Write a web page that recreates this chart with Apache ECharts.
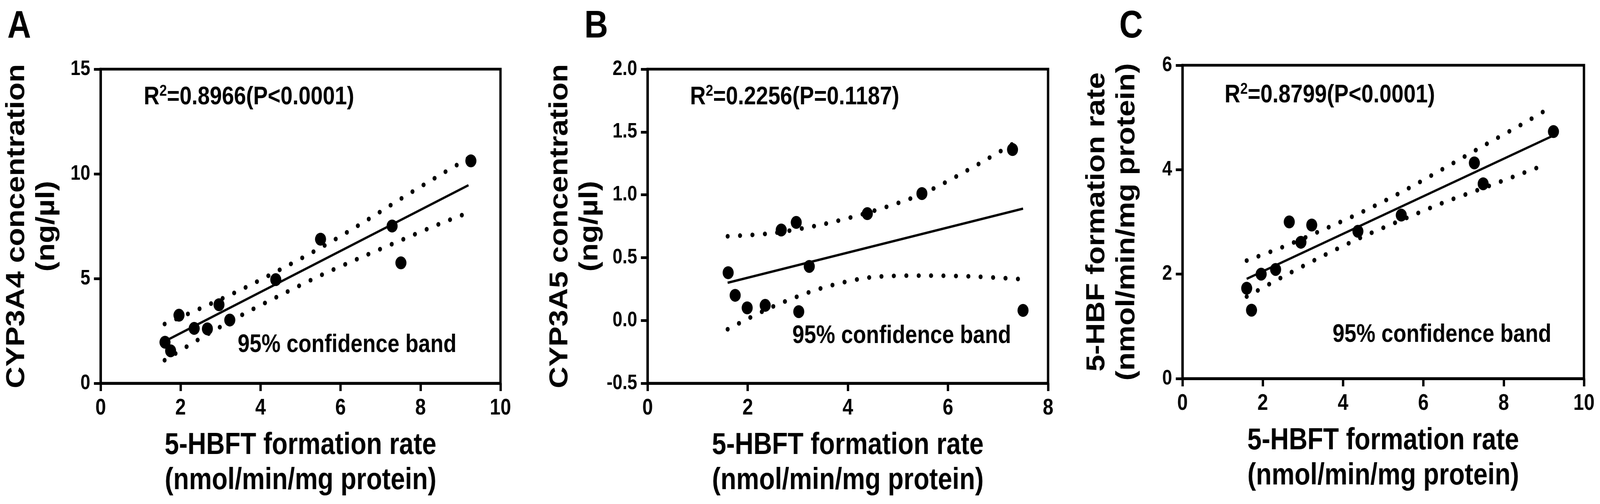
<!DOCTYPE html>
<html>
<head>
<meta charset="utf-8">
<script src="https://cdn.jsdelivr.net/npm/echarts@6/dist/echarts.min.js"></script>
<style>
  html, body { margin: 0; padding: 0; background: #fff; overflow: hidden; }
  #chart { width: 4786px; height: 1290px; transform-origin: 0 0; }
</style>
</head>
<body>
<div id="chart"></div>
<script>
// panel A: CYP3A4 vs 5-HBFT
var xA = [1.61, 1.75, 1.96, 2.34, 2.67, 2.96, 3.23, 4.38, 5.50, 7.29, 7.51, 9.26];
var yA = [1.96, 1.55, 3.25, 2.62, 2.60, 3.75, 3.02, 4.95, 6.88, 7.51, 5.75, 10.62];
var fitXA = [1.6, 9.2];
var fitYA = [2.0, 9.46];
var bandXA = [1.6, 2.5, 3.5, 4.5, 5.5, 6.5, 7.5, 8.5, 9.2];
var upperA = [2.83, 3.58, 4.46, 5.44, 6.47, 7.60, 8.80, 9.96, 10.75];
var lowerA = [1.10, 2.15, 3.23, 4.21, 5.15, 6.00, 6.82, 7.63, 8.15];

// panel B: CYP3A5 vs 5-HBFT
var xB = [1.61, 1.75, 1.99, 2.35, 2.67, 2.97, 3.02, 3.23, 4.39, 5.48, 7.29, 7.50];
var yB = [0.38, 0.20, 0.10, 0.12, 0.72, 0.78, 0.07, 0.43, 0.85, 1.01, 1.36, 0.08];
var fitXB = [1.6, 7.5];
var fitYB = [0.30, 0.89];
var bandXB = [1.6, 2.5, 3.5, 4.5, 5.5, 6.5, 7.4];
var upperB = [0.67, 0.695, 0.765, 0.87, 1.01, 1.22, 1.43];
var lowerB = [-0.07, 0.11, 0.26, 0.345, 0.357, 0.35, 0.33];

// panel C: 5-HBF vs 5-HBFT
var xC = [1.60, 1.72, 1.96, 2.32, 2.66, 2.95, 3.22, 4.37, 5.45, 7.27, 7.49, 9.24];
var yC = [1.73, 1.31, 2.00, 2.09, 3.00, 2.61, 2.94, 2.82, 3.13, 4.13, 3.73, 4.73];
var fitXC = [1.6, 9.2];
var fitYC = [1.91, 4.64];
var bandXC = [1.6, 2.5, 3.5, 4.5, 5.5, 6.5, 7.5, 8.5, 9.05];
var upperC = [2.26, 2.52, 2.85, 3.20, 3.59, 4.02, 4.46, 4.89, 5.14];
var lowerC = [1.57, 1.95, 2.35, 2.72, 3.05, 3.37, 3.65, 3.94, 4.10];

var panelLetters = ['A', 'B', 'C'];
var r2Texts = ['=0.8966(P<0.0001)', '=0.2256(P=0.1187)', '=0.8799(P<0.0001)'];
var bandText = '95% confidence band';
var xName = '5-HBFT formation rate\n(nmol/min/mg protein)';
var yNames = ['CYP3A4 concentration\n(ng/\u00b5l)', 'CYP3A5 concentration\n(ng/\u00b5l)', '5-HBF formation rate\n(nmol/min/mg protein)'];

var FONT = '"Liberation Sans", Arial, Helvetica, sans-serif';
var W = 4786, H = 1290;

// the window may be narrower than the figure: squeeze the whole figure into it
var box = document.getElementById('chart');
var sx = Math.min(1, window.innerWidth / W), sy = Math.min(1, window.innerHeight / H);
box.style.transform = 'scale(' + sx + ',' + sy + ')';

function pairs(xs, ys) {
  return xs.map(function (x, i) { return [x, ys[i]]; });
}

var chart = echarts.init(box, null, { width: W, height: H, devicePixelRatio: 1 });

var grids = [
  { left: 301, top: 177, width: 1196, height: 804 },
  { left: 1937, top: 177, width: 1198, height: 804 },
  { left: 3537, top: 167, width: 1201, height: 802 }
];

function makeX(idx, max) {
  return {
    type: 'value', gridIndex: idx, min: 0, max: max, interval: 2,
    name: xName, nameLocation: 'middle', nameGap: 115,
    nameTextStyle: { fontFamily: FONT, fontSize: 77, fontWeight: 'bold', color: '#000', lineHeight: 90 },
    axisLine: { onZero: false, lineStyle: { color: '#000', width: 7 } },
    axisTick: { length: 20, lineStyle: { color: '#000', width: 7 } },
    axisLabel: { margin: 36, fontFamily: FONT, fontSize: 57, fontWeight: 'bold', color: '#000' },
    splitLine: { show: false }
  };
}

function makeY(idx, min, max, step, gap, decimals) {
  return {
    type: 'value', gridIndex: idx, min: min, max: max, interval: step,
    name: yNames[idx], nameLocation: 'middle', nameGap: gap, nameRotate: 90,
    nameTextStyle: { fontFamily: FONT, fontSize: 77, fontWeight: 'bold', color: '#000', lineHeight: 90 },
    axisLine: { onZero: false, lineStyle: { color: '#000', width: 7 } },
    axisTick: { length: 20, lineStyle: { color: '#000', width: 7 } },
    axisLabel: {
      margin: 31, fontFamily: FONT, fontSize: 53, fontWeight: 'bold', color: '#000',
      formatter: function (v) { return decimals ? v.toFixed(decimals) : String(v); }
    },
    splitLine: { show: false }
  };
}

function panelSeries(idx, xs, ys, fx, fy, bx, up, lo) {
  var dotted = { color: '#000', width: 12, type: [0.1, 37], cap: 'round' };
  return [
    { type: 'line', xAxisIndex: idx, yAxisIndex: idx, data: pairs(bx, up), smooth: 0.3,
      symbol: 'none', lineStyle: dotted, z: 2, silent: true },
    { type: 'line', xAxisIndex: idx, yAxisIndex: idx, data: pairs(bx, lo), smooth: 0.3,
      symbol: 'none', lineStyle: dotted, z: 2, silent: true },
    { type: 'line', xAxisIndex: idx, yAxisIndex: idx, data: pairs(fx, fy),
      symbol: 'none', lineStyle: { color: '#000', width: 6 }, z: 3, silent: true },
    { type: 'scatter', xAxisIndex: idx, yAxisIndex: idx, data: pairs(xs, ys),
      symbol: 'circle', symbolSize: 33, itemStyle: { color: '#000', opacity: 1 }, z: 4 }
  ];
}

var letterLeft = [22, 1748, 3348];
var r2Pos = [[430, 214], [2064, 214], [3663, 209]];
var bandPos = [[711, 848], [2370, 825], [3986, 822]];

var titles = [];
panelLetters.forEach(function (t, i) {
  titles.push({ text: t, left: letterLeft[i], top: 19, padding: 0,
    textStyle: { fontFamily: FONT, fontSize: 98, fontWeight: 'bold', color: '#000', lineHeight: 100 } });
  titles.push({ text: '{a|R}{s|2}{a|' + r2Texts[i] + '}', left: r2Pos[i][0], top: r2Pos[i][1], padding: 0,
    textStyle: {
      rich: {
        a: { fontFamily: FONT, fontSize: 65, fontWeight: 'bold', color: '#000', lineHeight: 70 },
        s: { fontFamily: FONT, fontSize: 40, fontWeight: 'bold', color: '#000', lineHeight: 44, verticalAlign: 'top' }
      }
    } });
  titles.push({ text: bandText, left: bandPos[i][0], top: bandPos[i][1], padding: 0,
    textStyle: { fontFamily: FONT, fontSize: 64, fontWeight: 'bold', color: '#000', lineHeight: 70 } });
});

var option = {
  backgroundColor: '#fff',
  animation: false,
  title: titles,
  grid: grids.map(function (g) {
    return { left: g.left, top: g.top, width: g.width, height: g.height, show: true,
      borderColor: '#000', borderWidth: 7, containLabel: false };
  }),
  xAxis: [makeX(0, 10), makeX(1, 8), makeX(2, 10)],
  yAxis: [makeY(0, 0, 15, 5, 115, 0), makeY(1, -0.5, 2.0, 0.5, 121, 1), makeY(2, 0, 6, 2, 120, 0)],
  series: [].concat(
    panelSeries(0, xA, yA, fitXA, fitYA, bandXA, upperA, lowerA),
    panelSeries(1, xB, yB, fitXB, fitYB, bandXB, upperB, lowerB),
    panelSeries(2, xC, yC, fitXC, fitYC, bandXC, upperC, lowerC)
  )
};

chart.setOption(option);
</script>
</body>
</html>
